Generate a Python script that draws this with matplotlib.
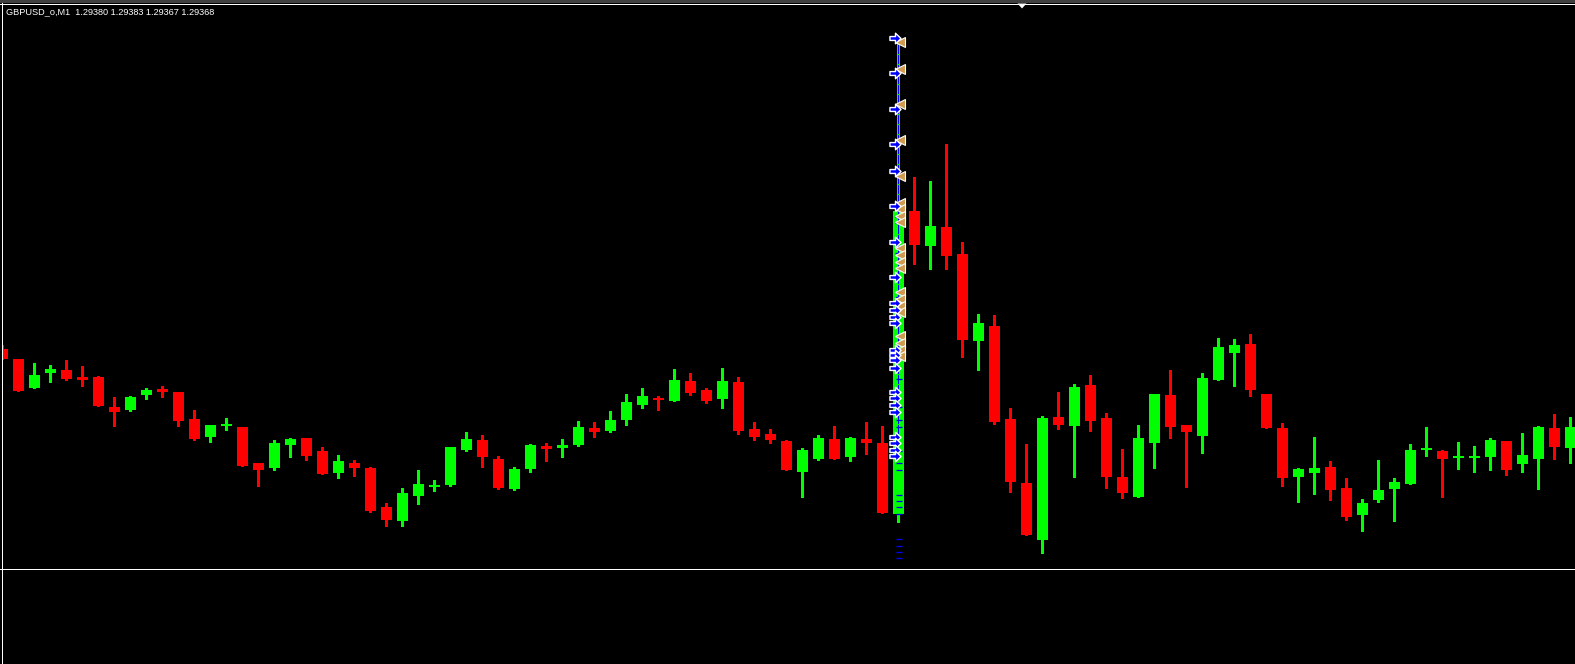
import matplotlib
matplotlib.use("Agg")
import matplotlib.pyplot as plt
from matplotlib.path import Path
from matplotlib.lines import Line2D
from matplotlib.patches import Polygon
import numpy as np

# ---- data: price offsets in points (1 point = 0.00001) ----
title = "GBPUSD_o,M1  1.29380 1.29383 1.29367 1.29368"

opens = [251, 241, 212, 227, 230, 223, 223, 193, 190, 205, 211, 208, 181, 163, 175, 173, 137, 132, 155, 162,
         149, 127, 137, 132, 93, 79, 104, 114, 115, 150, 160, 141, 111, 131, 154, 152, 155, 172, 169, 180,
         195, 202, 199, 219, 210, 201, 218, 171, 166, 159, 128, 141, 161, 143, 161, 157, 86, 389, 354, 373,
         346, 259, 274, 181, 117, 60, 183, 174, 215, 182, 123, 103, 157, 205, 175, 164, 220, 247, 256, 206,
         172, 123, 127, 133, 112, 85, 100, 111, 116, 151, 149, 142, 143, 143, 159, 136, 141, 172, 152]
closes = [241, 209, 225, 231, 221, 220, 194, 188, 203, 210, 208, 179, 161, 175, 176, 134, 130, 157, 161, 144,
          126, 139, 132, 89, 80, 107, 116, 115, 153, 161, 143, 112, 131, 155, 151, 155, 173, 168, 180, 198,
          204, 200, 220, 207, 199, 219, 169, 163, 160, 130, 150, 162, 141, 162, 157, 87, 389, 355, 374, 344,
          260, 277, 178, 118, 65, 182, 175, 213, 179, 123, 107, 162, 206, 173, 168, 222, 253, 255, 210, 172,
          122, 131, 132, 110, 83, 97, 110, 118, 150, 151, 141, 144, 143, 160, 130, 145, 173, 153, 173]
highs = [255, 241, 237, 235, 240, 234, 224, 203, 204, 212, 214, 208, 190, 175, 182, 173, 137, 160, 162, 162,
         153, 145, 140, 133, 97, 112, 130, 120, 153, 168, 165, 144, 133, 156, 157, 161, 179, 178, 189, 206,
         212, 204, 231, 227, 212, 232, 223, 178, 171, 160, 152, 165, 174, 163, 178, 174, 563, 423, 419, 456,
         358, 286, 285, 192, 156, 184, 208, 216, 225, 187, 151, 175, 206, 230, 175, 227, 262, 261, 266, 206,
         177, 132, 163, 139, 122, 101, 140, 122, 156, 173, 150, 158, 154, 162, 159, 167, 174, 186, 183]
lows = [241, 209, 212, 218, 220, 214, 194, 174, 189, 201, 203, 174, 160, 158, 170, 134, 114, 130, 143, 140,
        126, 122, 124, 88, 74, 74, 96, 109, 114, 149, 133, 111, 110, 128, 139, 143, 154, 163, 168, 175,
        192, 190, 199, 205, 197, 192, 166, 160, 157, 130, 103, 140, 141, 139, 146, 87, 78, 336, 331, 331,
        243, 230, 176, 108, 65, 47, 171, 123, 169, 112, 102, 103, 132, 162, 113, 147, 220, 214, 204, 172,
        114, 98, 106, 100, 80, 69, 98, 79, 116, 144, 103, 131, 128, 130, 125, 128, 111, 141, 137]

# trade/tick markers on the spike bar
spike_bar = 56
buy_arrows = [562, 527, 491, 456, 429, 394, 358, 323, 297, 290, 283, 277, 250, 245, 240, 232,
              208, 202, 195, 188, 163, 157, 150, 144]
sell_marks = [558, 531, 496, 460, 424, 397, 391, 384, 378, 352, 345, 338, 332, 308, 301, 294, 288,
              264, 257, 250, 244]
tick_long = [221, 193, 180, 173, 149, 137, 130, 105, 99, 93, 86, 61, 54, 48, 42]
tick_short = [383, 377, 353, 347, 327, 308, 303, 287]
guide_top, guide_bottom = 563, 167

# ---- figure ----
W, H = 1575, 664
fig = plt.figure(figsize=(W / 100, H / 100), dpi=100, facecolor="black")
PX = 0.72  # one pixel in points

ax = fig.add_axes([2 / W, (H - 567) / H, (W - 2) / W, (567 - 4) / H])
ax.set_facecolor("black")
for s in ax.spines.values():
    s.set_visible(False)
ax.set_xticks([]); ax.set_yticks([])
n = len(opens)
x = np.arange(n)
ax.set_xlim(-0.3 / 16, (W - 2.3) / 16)
ax.set_ylim(33, 596)

bw = 11 / 16
for i in range(n):
    o, c, h, l = opens[i], closes[i], highs[i], lows[i]
    col = "#00FF00" if c >= o else "#FF0000"
    ax.vlines(x[i], l, h, color=col, lw=PX * 1.1, antialiased=False, zorder=2)
    bot = min(o, c)
    ht = max(abs(c - o), 2)
    if abs(c - o) < 2:
        bot = (o + c) / 2 - 1
    ax.bar(x[i], ht, bottom=bot, width=bw, color=col, linewidth=0, antialiased=False, zorder=3)

# overlay on spike bar
xs = x[spike_bar]
ax.vlines(xs, guide_bottom, guide_top, color="#0000FF", lw=PX * 1.4,
          linestyles=(0, (6, 1)), antialiased=False, zorder=4)
ax.plot([xs - 0.1] * len(tick_short), tick_short, ls="none", marker="_", ms=2.5,
        mew=PX * 1.2, color="#0000FF", zorder=5)
ax.plot([xs + 0.02] * len(tick_long), tick_long, ls="none", marker="_", ms=5,
        mew=PX * 1.3, color="#0000FF", zorder=5)
arrow = Path([(-1, -0.35), (0, -0.35), (0, -0.95), (1, 0), (0, 0.95), (0, 0.35), (-1, 0.35), (-1, -0.35)],
             [Path.MOVETO] + [Path.LINETO] * 6 + [Path.CLOSEPOLY])
ax.plot([xs + 0.12] * len(sell_marks), sell_marks, ls="none", marker="<", ms=6.5,
        mfc="#D09A50", mec="white", mew=0.8, zorder=6)
ax.plot([xs - 0.2] * len(buy_arrows), buy_arrows, ls="none", marker=arrow, ms=8,
        mfc="#0000FF", mec="white", mew=1.0, zorder=7)

# sub window
ax2 = fig.add_axes([2 / W, 2 / H, (W - 2) / W, (H - 570) / H])
ax2.set_facecolor("black")
for s in ax2.spines.values():
    s.set_visible(False)
ax2.set_xticks([]); ax2.set_yticks([])

# frame lines
def hline(ypx, col="white", lw=1.0):
    fig.add_artist(Line2D([0, 1], [1 - ypx / H] * 2, transform=fig.transFigure,
                          color=col, lw=lw * PX, antialiased=False))

def vline(xpx, y0, y1, col="white"):
    fig.add_artist(Line2D([xpx / W] * 2, [1 - y0 / H, 1 - y1 / H], transform=fig.transFigure,
                          color=col, lw=PX, antialiased=False))

hline(0.5, "#404040", 2.5)
hline(3.5)
hline(568.5)
hline(663.5)
vline(1.5, 3, 664)

# chart shift marker
fig.add_artist(Polygon([[1017.5 / W, 1 - 3.5 / H], [1026.5 / W, 1 - 3.5 / H], [1022 / W, 1 - 8.5 / H]],
                       closed=True, transform=fig.transFigure, facecolor="white", edgecolor="none"))

fig.text(6 / W, 1 - 11.5 / H, title, color="white", fontsize=6.6, family="Liberation Sans",
         va="center", ha="left")

fig.savefig("out.png", dpi=100, facecolor="black")
